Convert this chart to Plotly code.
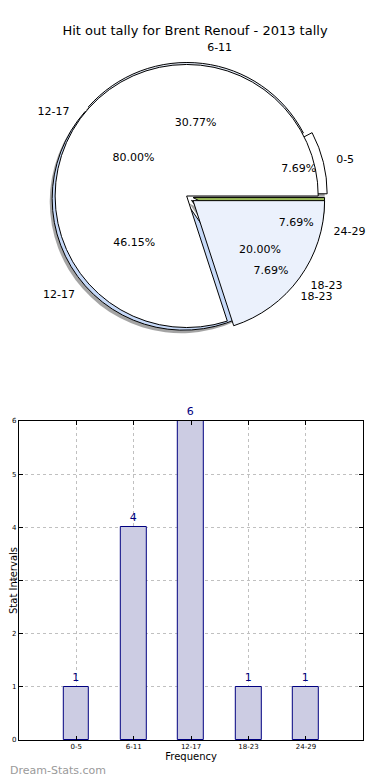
import plotly.graph_objects as go

# ---------------- data ----------------
title_text = "Hit out tally for Brent Renouf - 2013 tally"
categories = ["0-5", "6-11", "12-17", "18-23", "24-29"]
tally = [1, 4, 6, 1, 1]
pie_colors = ["#ffffff", "#e6edf9", "#c6d9f8", "#dce6f5", "#9bbb59"]
pie_pull = [0.07, 0.015, 0.03, 0.05, 0.05]

inner_labels = ["12-17", "18-23"]
inner_values = [4, 1]
inner_colors = ["#ffffff", "#ebf1fc"]
inner_pull = [0.0, 0.06]

y_title = "Stat Intervals"
x_title = "Frequency"
watermark = "Dream-Stats.com"

# ---------------- geometry ----------------
# the page body has an 8px margin, so the figure is drawn 8px in from the corner
OFF = 8
W, H = 390 - OFF, 780 - OFF
CX, CY, R = 190 - OFF, 196 - OFF, 134
FONT = "DejaVu Sans"


def fx(px):
    return (px - OFF) / W


def fy(py):
    return 1 - (py - OFF) / H


def pie_domain(pulls, radius, dx=0, dy=0):
    half = radius * (1 + max(pulls))
    return dict(x=[(CX + dx - half) / W, (CX + dx + half) / W],
                y=[1 - (CY + dy + half) / H, 1 - (CY + dy - half) / H])


def pie(labels, values, colors, pulls, mode):
    # reverse order + clockwise from 3 o'clock == matplotlib ccw from startangle 0
    lab = labels[::-1]
    val = values[::-1]
    col = colors[::-1]
    pul = pulls[::-1]
    kw = dict(labels=lab, values=val, pull=pul, sort=False, direction="clockwise",
              rotation=90, showlegend=False, hoverinfo="skip")
    if mode == "fill":
        kw.update(marker=dict(colors=col, line=dict(color="#000000", width=1)),
                  textinfo="none", domain=pie_domain(pulls, R))
    elif mode == "shadow":
        kw.update(marker=dict(colors=["rgba(90,90,90,0.55)"] * len(val),
                              line=dict(width=0)),
                  textinfo="none", domain=pie_domain(pulls, R, dx=-2.5, dy=3))
    else:
        kw.update(marker=dict(colors=["rgba(0,0,0,0)"] * len(val),
                              line=dict(width=0)),
                  textfont=dict(family=FONT, size=11, color="#000000"))
        if mode == "pct":
            kw.update(texttemplate="%{percent:.2%}", textposition="inside",
                      insidetextorientation="horizontal",
                      domain=pie_domain(pulls, R))
        else:
            kw.update(texttemplate="%{label}", textposition="outside",
                      domain=pie_domain(pulls, R * 1.07))
    return go.Pie(**kw)


fig = go.Figure()
fig.add_trace(pie(categories, tally, pie_colors, pie_pull, "shadow"))
fig.add_trace(pie(categories, tally, pie_colors, pie_pull, "fill"))
fig.add_trace(pie(inner_labels, inner_values, inner_colors, inner_pull, "fill"))
fig.add_trace(pie(categories, tally, pie_colors, pie_pull, "pct"))
fig.add_trace(pie(inner_labels, inner_values, inner_colors, inner_pull, "pct"))
fig.add_trace(pie(categories, tally, pie_colors, pie_pull, "label"))
fig.add_trace(pie(inner_labels, inner_values, inner_colors, inner_pull, "label"))

fig.add_trace(go.Bar(
    x=categories, y=tally, width=0.45,
    marker=dict(color="#ccccE3", line=dict(color="#000080", width=1)),
    text=tally, textposition="outside", cliponaxis=False,
    textfont=dict(family=FONT, size=11, color="#000080"),
    showlegend=False, hoverinfo="skip"))

axis_common = dict(showline=True, linecolor="#000000", linewidth=1, mirror="ticks",
                   ticks="inside", ticklen=4, tickcolor="#000000",
                   showgrid=True, gridcolor="#c0c0c0", griddash="dot", gridwidth=1,
                   zeroline=False, automargin=False,
                   tickfont=dict(family=FONT, size=7, color="#000000"))

fig.update_layout(
    width=W, height=H,
    margin=dict(l=0, r=0, t=0, b=0),
    paper_bgcolor="#ffffff", plot_bgcolor="#ffffff",
    font=dict(family=FONT, color="#000000"),
    title=dict(text=title_text, x=fx(195), xanchor="center", y=fy(30), yanchor="middle",
               font=dict(family=FONT, size=13, color="#000000")),
    bargap=0,
    xaxis=dict(domain=[fx(19), fx(370)], anchor="y", type="category", range=[-1, 5],
               title=dict(text=x_title, standoff=2, font=dict(family=FONT, size=10)),
               **axis_common),
    yaxis=dict(domain=[fy(740), fy(421)], anchor="x", range=[0, 6], dtick=1,
               title=dict(text=y_title, standoff=2, font=dict(family=FONT, size=10)),
               **axis_common),
    annotations=[dict(text=watermark, xref="paper", yref="paper", x=0, y=fy(770),
                      xanchor="left", yanchor="middle", showarrow=False,
                      font=dict(family=FONT, size=11, color="#9a9a9a"))],
)

fig.write_html("out.html")
